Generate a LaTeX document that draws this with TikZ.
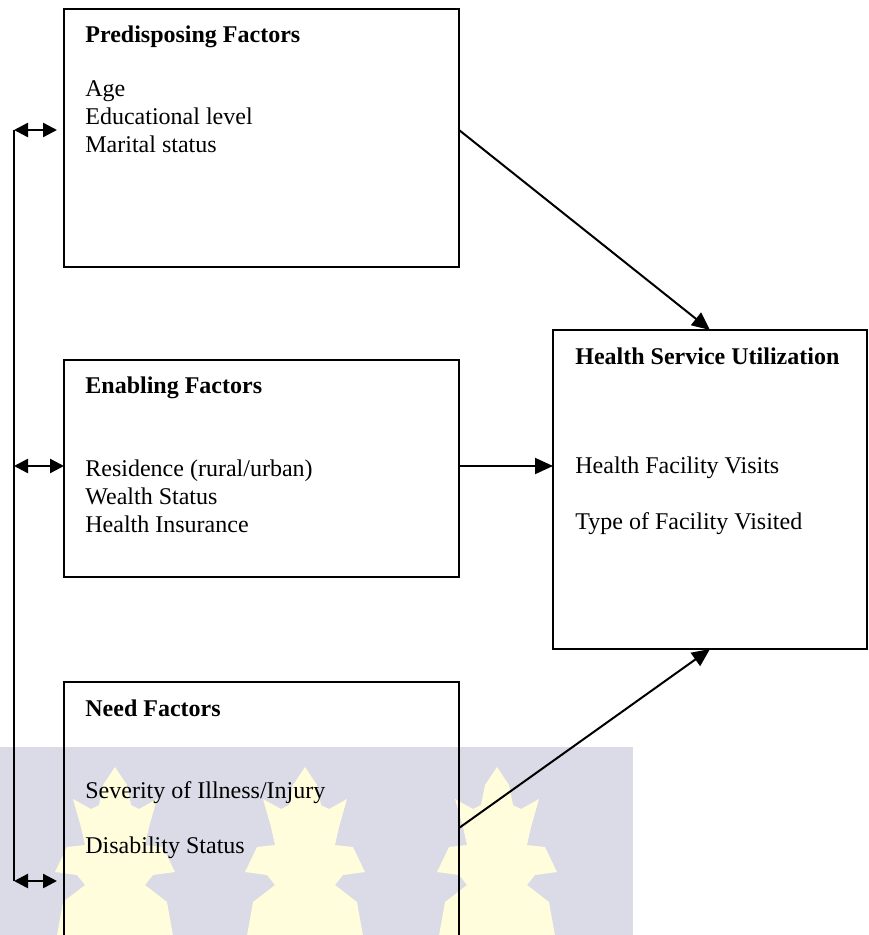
\documentclass[tikz,border=0pt]{standalone}
\usepackage{fontspec}
\setmainfont{Liberation Serif}
\usepackage{tikz}
\usetikzlibrary{arrows.meta, calc, positioning}

\definecolor{markband}{RGB}{218,219,230}
\definecolor{markleaf}{RGB}{255,253,220}

\begin{document}
\begin{tikzpicture}[x=0.5pt, y=-0.5pt,
		box/.style={
			draw,
			line width=0.9pt,
			inner sep=0pt,
			outer sep=0pt,
			anchor=center,
		}, label/.style={
			anchor=base west,
			inner sep=0pt,
			font=\fontsize{12}{14}\selectfont,
		}, head/.style={
			label,
			font=\fontsize{12}{14}\selectfont\bfseries,
		}, arr/.style={
			-{Triangle[length=9pt,width=8pt]},
			line width=1pt,
		}, dbl/.style={
			{Triangle[length=7pt,width=7pt]}-{Triangle[length=7pt,width=7pt]},
			line width=1.2pt,
		}, ]

\useasboundingbox (0,0) rectangle (868,935);
\clip (0,0) rectangle (868,935);

% ------ watermark ------- %
\fill[markband] (0,747) rectangle (633,935);
\foreach \cx in {115,305,497}{
	\begin{scope}[shift={(\cx,767)}]
	\fill[markleaf] (0,0) -- (12,18) -- (16,38) -- (24,42) -- (42,32) -- (34,60) -- (30,78) -- (48,80) -- (60,105) -- (38,108) -- (30,118) -- (52,135) -- (60,180)
		-- (-60,180) -- (-52,135) -- (-30,118) -- (-38,108) -- (-60,105) -- (-48,80) -- (-30,78) -- (-34,60) -- (-42,32) -- (-24,42) -- (-16,38) -- (-12,18) -- cycle;
	\end{scope}
}

% ------ boxes ------- %
\draw
(261.5,138) node[box, minimum width=197.5pt, minimum height=129pt](predis){}
(261.5,468.5) node[box, minimum width=197.5pt, minimum height=108.5pt](enab){}
(261.5,828) node[box, minimum width=197.5pt, minimum height=146pt](need){}
(710,489.5) node[box, minimum width=157pt, minimum height=159.5pt](util){}
;

% ------ texts ------- %
\draw
(85,43) node[head](predis_title){Predisposing Factors}
(85,97) node[label](age){Age}
(85,125) node[label](edu){Educational level}
(85,153) node[label](marital){Marital status}
(85,393) node[head](enab_title){Enabling Factors}
(85,476) node[label](residence){Residence (rural/urban)}
(85,504) node[label](wealth){Wealth Status}
(85,532) node[label](insurance){Health Insurance}
(85,716) node[head](need_title){Need Factors}
(85,798) node[label](severity){Severity of Illness/Injury}
(85,853) node[label](disability){Disability Status}
(575,364) node[head](util_title){Health Service Utilization}
(575,473) node[label](visits){Health Facility Visits}
(575,529) node[label](facility){Type of Facility Visited}
;

% ------ connectors ------- %
\coordinate (predis_out) at ([yshift=4pt]predis.east);
\coordinate (bus_top) at (14,130);
\coordinate (bus_mid) at (14,466);
\coordinate (bus_bot) at (14,881);

\draw [arr] (predis_out) -- (util.north);
\draw [arr] (enab.east |- bus_mid) -- (util.west |- bus_mid);
\draw [arr] (need.east) -- (util.south);

\draw [line width=1pt] (bus_top) -- (bus_bot);
\draw [dbl] (bus_top) -- ([xshift=-3.5pt]predis.west |- bus_top);
\draw [dbl] (bus_mid) -- (enab.west |- bus_mid);
\draw [dbl] (bus_bot) -- ([xshift=-3.5pt]need.west |- bus_bot);

\end{tikzpicture}
\end{document}
